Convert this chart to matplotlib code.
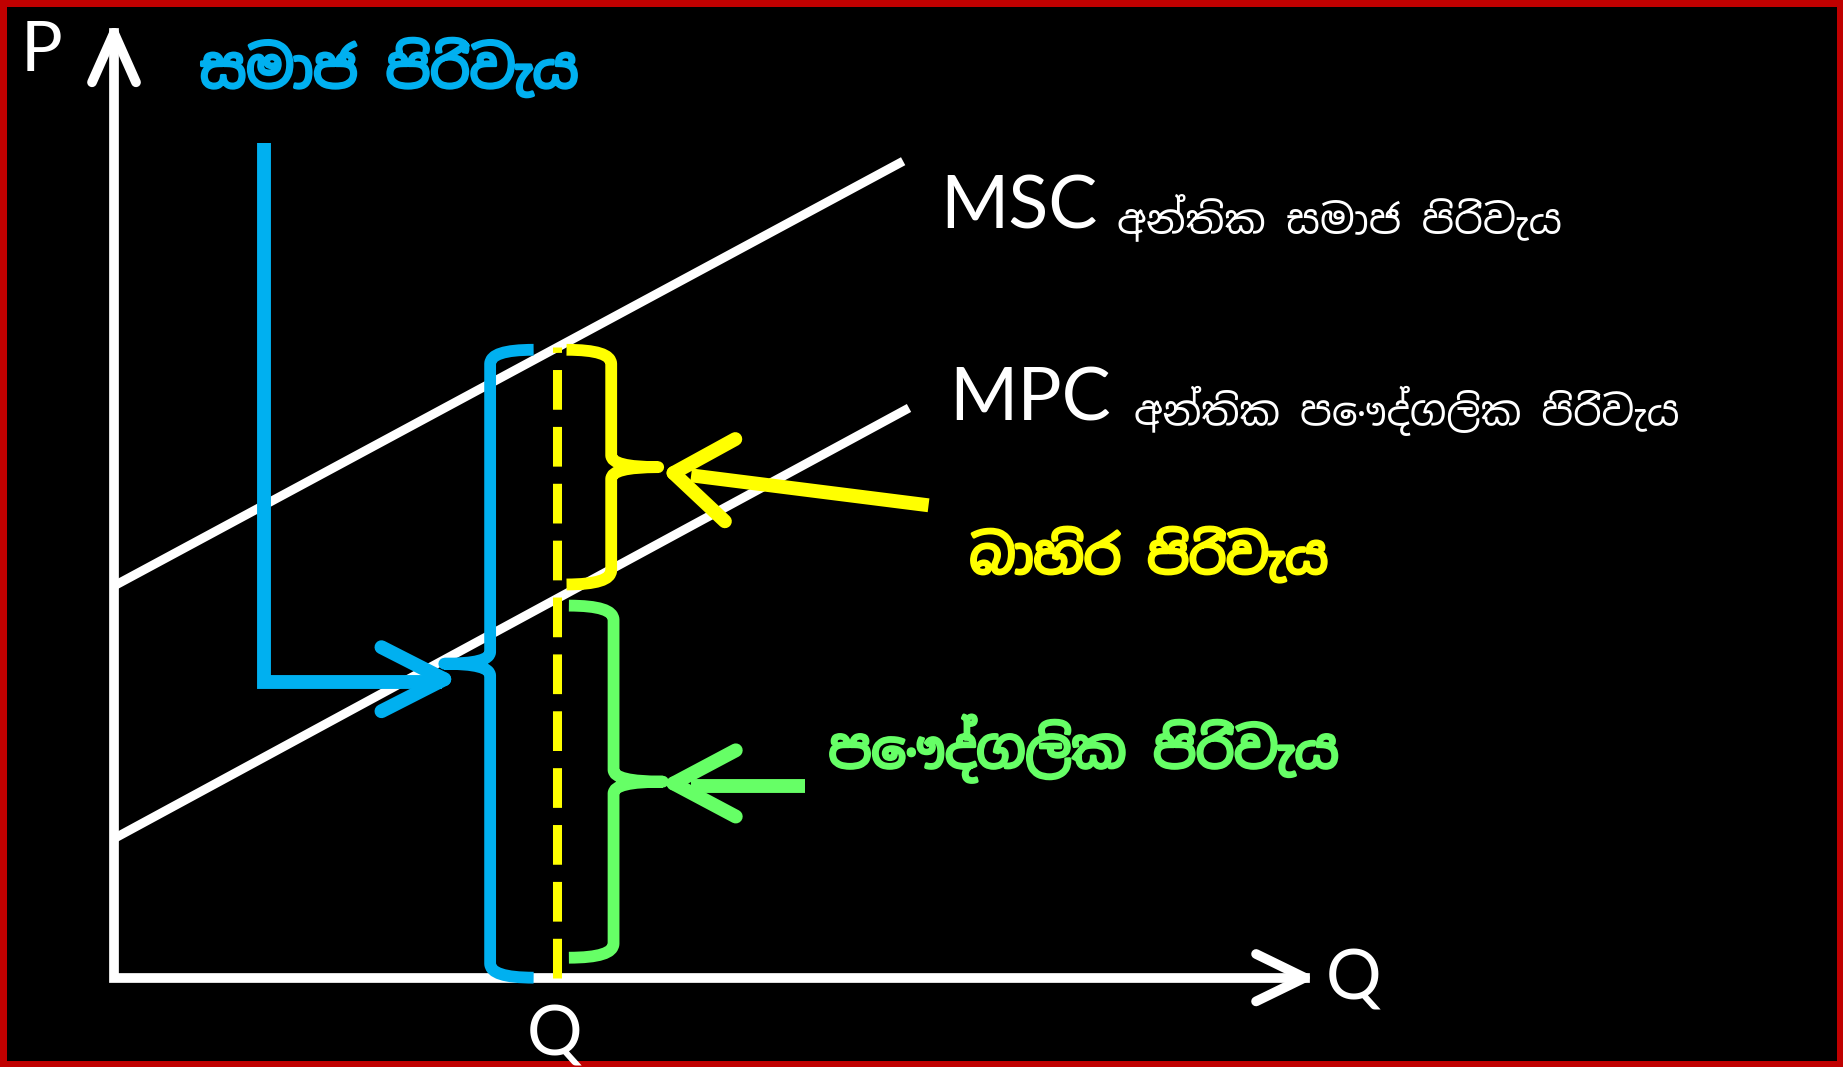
import matplotlib
matplotlib.use("Agg")
import matplotlib.pyplot as plt
import matplotlib.patheffects as pe
import numpy as np
from matplotlib import font_manager
from matplotlib.ft2font import FT2Font
from matplotlib.path import Path
from matplotlib.patches import PathPatch

# curve end points (Q, P)
msc_q = [0.03, 6.68]
msc_p = [3.35, 6.93]
mpc_q = [0.03, 6.73]
mpc_p = [1.20, 4.83]
q_star = 3.77

axis_q_max = 10.13
axis_p_max = 8.04

# blue pointer from the "social cost" label to the brace
blue_q = 1.28
blue_p_top = 7.10
blue_p = 2.52

labels = {
    "title": "සමාජ පිරිවැය",
    "msc": "අන්තික සමාජ පිරිවැය",
    "mpc": "අන්තික පෞද්ගලික පිරිවැය",
    "ext": "බාහිර පිරිවැය",
    "priv": "පෞද්ගලික පිරිවැය",
}

BLUE = "#00B0F0"
YELLOW = "#FFFF00"
GREEN = "#66FF66"
WHITE = "white"


def find_sinhala_font():
    paths = [f.fname for f in font_manager.fontManager.ttflist]
    paths += font_manager.findSystemFonts()
    found = []
    for p in set(paths):
        try:
            if 0x0DC3 in FT2Font(p).get_charmap():
                found.append(p)
        except Exception:
            pass
    if not found:
        return None

    def rank(p):
        low = p.lower()
        if "sinhala" in low:
            return 0
        if "lklug" in low or "iskpota" in low or "malithi" in low:
            return 1
        if "unifont" in low:
            return 3
        return 2

    found.sort(key=lambda p: (rank(p), "bold" in p.lower(), p))
    best = found[0]
    name = font_manager.FontProperties(fname=best).get_name()
    for p in found:
        try:
            font_manager.fontManager.addfont(p)
        except Exception:
            pass
    return name


si_font = find_sinhala_font()
si_family = [si_font, "DejaVu Sans"] if si_font else ["DejaVu Sans"]
latin = ["Lato", "DejaVu Sans"]


def line_at(qs, ps, q):
    return np.interp(q, qs, ps)


def chevron(ax, tip, direction, length, half_angle, color, lw):
    d = np.array(direction, float)
    d /= np.hypot(*d)
    for s in (1, -1):
        a = np.deg2rad(s * half_angle)
        rot = np.array([[np.cos(a), -np.sin(a)], [np.sin(a), np.cos(a)]])
        back = rot @ (-d) * length
        ax.plot([tip[0], tip[0] + back[0]], [tip[1], tip[1] + back[1]], color=color,
                lw=lw, solid_capstyle="round", zorder=6)


def brace(ax, x, top, bottom, tip_x, hook_x, color, lw, r=0.12, r2=0.1):
    mid = (top + bottom) / 2
    verts = [(hook_x, top), (x, top), (x, top - r),
             (x, mid + r2), (x, mid), (tip_x, mid),
             (x, mid), (x, mid - r2),
             (x, bottom + r), (x, bottom), (hook_x, bottom)]
    codes = [Path.MOVETO, Path.CURVE3, Path.CURVE3,
             Path.LINETO, Path.CURVE3, Path.CURVE3,
             Path.CURVE3, Path.CURVE3,
             Path.LINETO, Path.CURVE3, Path.CURVE3]
    ax.add_patch(PathPatch(Path(verts, codes), fill=False, edgecolor=color, lw=lw,
                           capstyle="butt", joinstyle="round", zorder=5))


def heavy(color):
    # the Sinhala font has no bold face, so thicken the glyphs with a stroke
    return [pe.withStroke(linewidth=2.2, foreground=color)]


fig = plt.figure(figsize=(18.43, 10.67), dpi=100)
fig.patch.set_facecolor("black")
fig.patch.set_edgecolor("#C00000")
fig.patch.set_linewidth(9)
ax = fig.add_axes([0, 0, 1, 1])
ax.set_facecolor("black")
ax.set_xlim(-0.97, 14.71)
ax.set_ylim(-0.76, 8.32)
ax.axis("off")

# axes
ax.plot([0, 0, axis_q_max], [axis_p_max, 0, 0], color=WHITE, lw=7, solid_joinstyle="miter", zorder=3)
chevron(ax, (0, axis_p_max), (0, 1), 0.46, 24, WHITE, 7)
chevron(ax, (axis_q_max, 0), (1, 0), 0.46, 26, WHITE, 7)

# MSC / MPC
ax.plot(msc_q, msc_p, color=WHITE, lw=6.5, zorder=2)
ax.plot(mpc_q, mpc_p, color=WHITE, lw=6.5, zorder=2)

p_msc = line_at(msc_q, msc_p, q_star)
p_mpc = line_at(mpc_q, mpc_p, q_star)

# dashed quantity line
ax.plot([q_star, q_star], [0, p_msc], color=YELLOW, lw=6.5, dashes=(4.4, 1.9), zorder=4)

# blue pointer
brace_tip_blue = q_star - 0.96
ax.plot([blue_q, blue_q, brace_tip_blue - 0.02], [blue_p_top, blue_p, blue_p], color=BLUE, lw=10,
        solid_joinstyle="miter", solid_capstyle="butt", zorder=4)
chevron(ax, (brace_tip_blue, blue_p + 0.02), (1, 0), 0.6, 27, BLUE, 10)

# braces
brace(ax, q_star - 0.57, p_msc - 0.02, 0, brace_tip_blue, q_star - 0.2, BLUE, 8.5)
brace(ax, q_star + 0.46, p_msc - 0.02, p_mpc + 0.12, q_star + 0.86, q_star + 0.08, YELLOW, 8.5)
brace(ax, q_star + 0.48, p_mpc - 0.06, 0.17, q_star + 0.90, q_star + 0.1, GREEN, 8.5)

# arrows to the braces
ext_tip = (q_star + 0.99, (p_msc + p_mpc) / 2 + 0.0)
ax.plot([6.93, ext_tip[0] + 0.15], [4.02, ext_tip[1] - 0.02], color=YELLOW, lw=10,
        solid_capstyle="butt", zorder=6)
chevron(ax, ext_tip, (ext_tip[0] - 6.93, ext_tip[1] - 4.02), 0.6, 36, YELLOW, 10)

priv_tip = (q_star + 0.99, p_mpc / 2 + 0.04)
ax.plot([5.88, priv_tip[0] + 0.15], [priv_tip[1] - 0.02, priv_tip[1] - 0.02], color=GREEN, lw=10,
        solid_capstyle="butt", zorder=6)
chevron(ax, priv_tip, (-1, 0), 0.6, 28, GREEN, 10)

# text
ax.text(-0.62, 7.88, "P", color=WHITE, fontsize=50, family=latin, ha="center", va="center")
ax.text(10.55, -0.02, "Q", color=WHITE, fontsize=50, family=latin, ha="center", va="center")
ax.text(q_star - 0.02, -0.5, "Q", color=WHITE, fontsize=50, family=latin, ha="center", va="center")

ax.text(0.73, 7.72, labels["title"], color=BLUE, fontsize=40.5, fontweight="bold", family=si_family,
        ha="left", va="center", path_effects=heavy(BLUE))
ax.text(7.03, 6.55, "MSC", color=WHITE, fontsize=53, family=latin, ha="left", va="center")
ax.text(8.53, 6.46, labels["msc"], color=WHITE, fontsize=29.5, family=si_family, ha="left", va="center")
ax.text(7.11, 4.92, "MPC", color=WHITE, fontsize=53, family=latin, ha="left", va="center")
ax.text(8.68, 4.82, labels["mpc"], color=WHITE, fontsize=29, family=si_family, ha="left", va="center")
ax.text(7.28, 3.58, labels["ext"], color=YELLOW, fontsize=38, fontweight="bold", family=si_family,
        ha="left", va="center", path_effects=heavy(YELLOW))
ax.text(6.08, 1.95, labels["priv"], color=GREEN, fontsize=39, fontweight="bold", family=si_family,
        ha="left", va="center", path_effects=heavy(GREEN))

fig.savefig("out.png", dpi=100, facecolor=fig.get_facecolor(), edgecolor=fig.get_edgecolor())
